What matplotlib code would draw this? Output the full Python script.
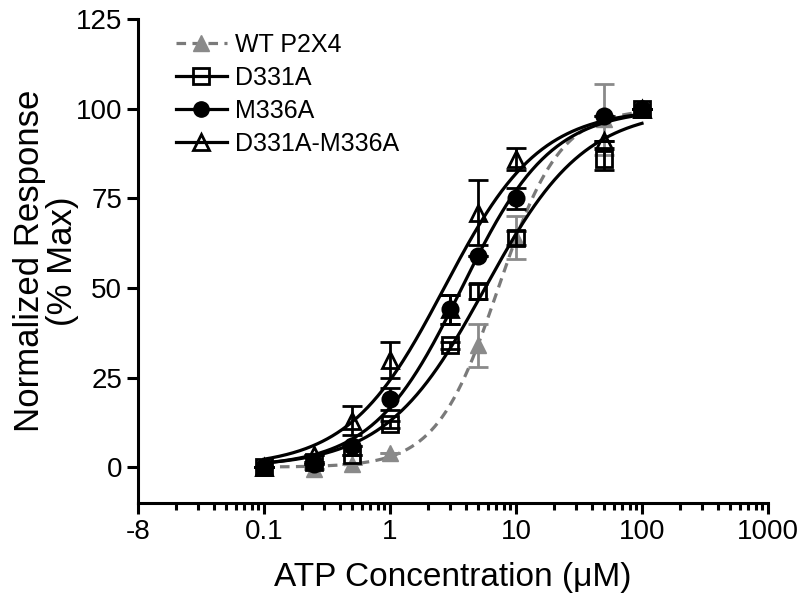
import numpy as np
import matplotlib
matplotlib.use("Agg")
import matplotlib.pyplot as plt
from matplotlib.ticker import FixedLocator, FixedFormatter, LogLocator, NullFormatter

plt.rcParams['font.family'] = ['Liberation Sans', 'DejaVu Sans']

# ATP concentrations (uM)
conc = [0.1, 0.25, 0.5, 1, 3, 5, 10, 50, 100]

# normalized responses (% max) and error bars
wt_conc = [0.1, 0.25, 0.5, 1, 5, 10, 50, 100]
wt_resp = [0, -0.5, 1, 4, 34, 64, 97, 100]
wt_err = [0, 0, 0, 0, 6, 6, 10, 0]

d331a_resp = [0, 1.5, 3.3, 12, 34, 49, 64, 86, 100]
d331a_err = [0, 0, 0, 1, 1, 2, 2, 3, 0]

m336a_resp = [0, 1, 6, 19, 44, 59, 75, 98, 100]
m336a_err = [0, 0, 0, 3, 4, 0, 3, 0, 0]

dm_resp = [0, 3.5, 13, 30, 44, 71, 86, 91, 100]
dm_err = [0, 0, 4, 5, 4, 9, 3, 0, 0]

labels = ['WT P2X4', 'D331A', 'M336A', 'D331A-M336A']
xtick_vals = [0.01, 0.1, 1, 10, 100, 1000]
xtick_labels = ['-8', '0.1', '1', '10', '100', '1000']


# simple Hill fit (bottom 0, top 100) by grid search
def fit_hill(x, y):
    x = np.log10(np.asarray(x, dtype=float))
    y = np.asarray(y, dtype=float)
    logec = np.arange(-1, 2, 0.005)[:, None, None]
    hill = np.arange(0.5, 3.0, 0.01)[None, :, None]
    pred = 100 / (1 + 10 ** ((logec - x[None, None, :]) * hill))
    sse = ((pred - y[None, None, :]) ** 2).sum(axis=2)
    i, j = np.unravel_index(np.argmin(sse), sse.shape)
    return logec[i, 0, 0], hill[0, j, 0]


def hill_curve(x, logec, h):
    return 100 / (1 + 10 ** ((logec - np.log10(x)) * h))


fig, ax = plt.subplots(figsize=(8, 6.06), dpi=100)
fig.subplots_adjust(left=0.1725, right=0.96, bottom=0.17, top=0.9686)

xs = np.logspace(-1, 2, 300)
lw = 2.3
ms = 11

# WT - gray dashed
gray = '#8a8a8a'
p = fit_hill(wt_conc, wt_resp)
ax.plot(xs, hill_curve(xs, *p), color='#7a7a7a', lw=lw, ls=(0, (3, 2)), zorder=2)
ax.errorbar(wt_conc, wt_resp, yerr=wt_err, fmt='^', color=gray, ms=ms, mec=gray, mfc=gray,
            elinewidth=2, capsize=7, capthick=2, zorder=3)

series = [
    (d331a_resp, d331a_err, 's', 'none'),
    (m336a_resp, m336a_err, 'o', 'black'),
    (dm_resp, dm_err, '^', 'none'),
]
for resp, err, mk, fc in series:
    p = fit_hill(conc, resp)
    ax.plot(xs, hill_curve(xs, *p), color='black', lw=lw, zorder=4)
    ax.errorbar(conc, resp, yerr=err, fmt=mk, color='black', ms=ms, mec='black', mfc=fc, mew=2,
                elinewidth=2, capsize=7, capthick=2, zorder=5)

# legend handles
handles = [
    plt.Line2D([], [], color='#7a7a7a', lw=lw, ls=(0, (3, 2)), marker='^', ms=ms, mfc=gray, mec=gray),
    plt.Line2D([], [], color='black', lw=lw, marker='s', ms=ms, mfc='none', mec='black', mew=2),
    plt.Line2D([], [], color='black', lw=lw, marker='o', ms=ms, mfc='black', mec='black'),
    plt.Line2D([], [], color='black', lw=lw, marker='^', ms=ms, mfc='none', mec='black', mew=2),
]
ax.legend(handles, labels, loc='upper left', bbox_to_anchor=(0.06, 0.971), frameon=False,
          fontsize=18, handlelength=2.05, labelspacing=0.36, handletextpad=0.3,
          borderpad=0, borderaxespad=0)

ax.set_xscale('log')
ax.set_xlim(0.01, 1000)
ax.set_ylim(-10, 125)
ax.xaxis.set_major_locator(FixedLocator(xtick_vals))
ax.xaxis.set_major_formatter(FixedFormatter(xtick_labels))
ax.xaxis.set_minor_locator(LogLocator(base=10, subs=np.arange(2, 10), numticks=20))
ax.xaxis.set_minor_formatter(NullFormatter())
ax.set_yticks([0, 25, 50, 75, 100, 125])

for s in ['top', 'right']:
    ax.spines[s].set_visible(False)
for s in ['left', 'bottom']:
    ax.spines[s].set_linewidth(2.2)
ax.tick_params(which='major', length=8, width=2.2, labelsize=20, direction='out')
ax.tick_params(which='minor', length=5, width=2.2, direction='out')

ax.set_xlabel('ATP Concentration (\u03bcM)', fontsize=24, labelpad=12)
ax.set_ylabel('Normalized Response\n(% Max)', fontsize=25, linespacing=1.0)
ax.yaxis.set_label_coords(-0.093, 0.5)

fig.savefig('out.png', dpi=100)
